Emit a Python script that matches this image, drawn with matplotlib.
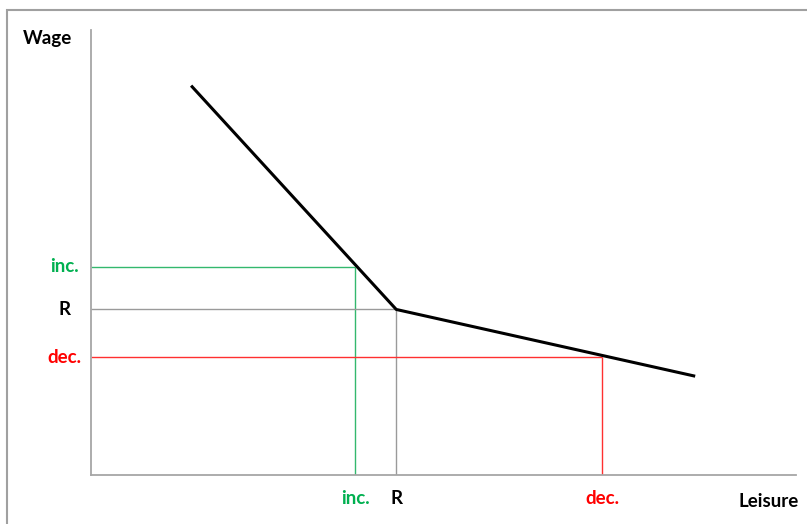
import matplotlib.pyplot as plt
from matplotlib.patches import Rectangle
from matplotlib.transforms import blended_transform_factory

# Кривая предложения труда (досуг по оси X, ставка по оси Y)
curve_leisure = [14.2, 43.3, 85.7]
curve_wage = [87.5, 37.2, 22.2]

# Отметки на осях
mark_labels = ['inc.', 'R', 'dec.']
mark_leisure = [37.5, 43.3, 72.5]
mark_wage = [46.8, 37.2, 26.5]
mark_colors = ['#33B86E', '#9a9a9a', '#FF3030']
text_colors = ['#00B050', '#000000', '#FF0000']


def plot_leisure_wage():
    plt.rcParams['font.family'] = ['Lato', 'DejaVu Sans']
    fig = plt.figure(figsize=(8.07, 5.24), dpi=100)
    ax = fig.add_axes([91 / 807, 49 / 524, 705 / 807, 445 / 524])
    ax.set_xlim(0, 100)
    ax.set_ylim(0, 100)

    # рамка вокруг картинки
    fig.add_artist(Rectangle((7 / 807, -0.05), 1.1, (514 / 524) + 0.05,
                             transform=fig.transFigure, fill=False,
                             edgecolor='#a0a0a0', linewidth=1.5))

    for s in ['top', 'right']:
        ax.spines[s].set_visible(False)
    for s in ['left', 'bottom']:
        ax.spines[s].set_color('#a6a6a6')
        ax.spines[s].set_linewidth(1.3)
    ax.set_xticks([])
    ax.set_yticks([])

    # направляющие линии
    for lab, x, y, c in zip(mark_labels, mark_leisure, mark_wage, mark_colors):
        ax.plot([0, x], [y, y], color=c, linewidth=1.0, solid_capstyle='butt')
        ax.plot([x, x], [0, y], color=c, linewidth=1.0, solid_capstyle='butt')
    ax.plot(curve_leisure, curve_wage, color='black', linewidth=2.2,
            solid_capstyle='butt', zorder=5)

    ytr = blended_transform_factory(ax.transAxes, ax.transData)
    xtr = blended_transform_factory(ax.transData, ax.transAxes)
    fs = 13.5
    for lab, x, y, c in zip(mark_labels, mark_leisure, mark_wage, text_colors):
        ax.text(-0.038, y, lab, transform=ytr, ha='center', va='center',
                color=c, fontsize=fs, fontweight='bold', clip_on=False)
        ax.text(x, -0.052, lab, transform=xtr, ha='center', va='center',
                color=c, fontsize=fs, fontweight='bold', clip_on=False)

    ax.text(-0.062, 1.0, 'Wage', transform=ax.transAxes, ha='center', va='top',
            fontsize=fs, fontweight='bold', clip_on=False)
    ax.text(0.961, -0.06, 'Leisure', transform=ax.transAxes, ha='center',
            va='center', fontsize=fs, fontweight='bold', clip_on=False)

    plt.savefig('out.png', dpi=100)
    plt.close()


if __name__ == '__main__':
    plot_leisure_wage()
